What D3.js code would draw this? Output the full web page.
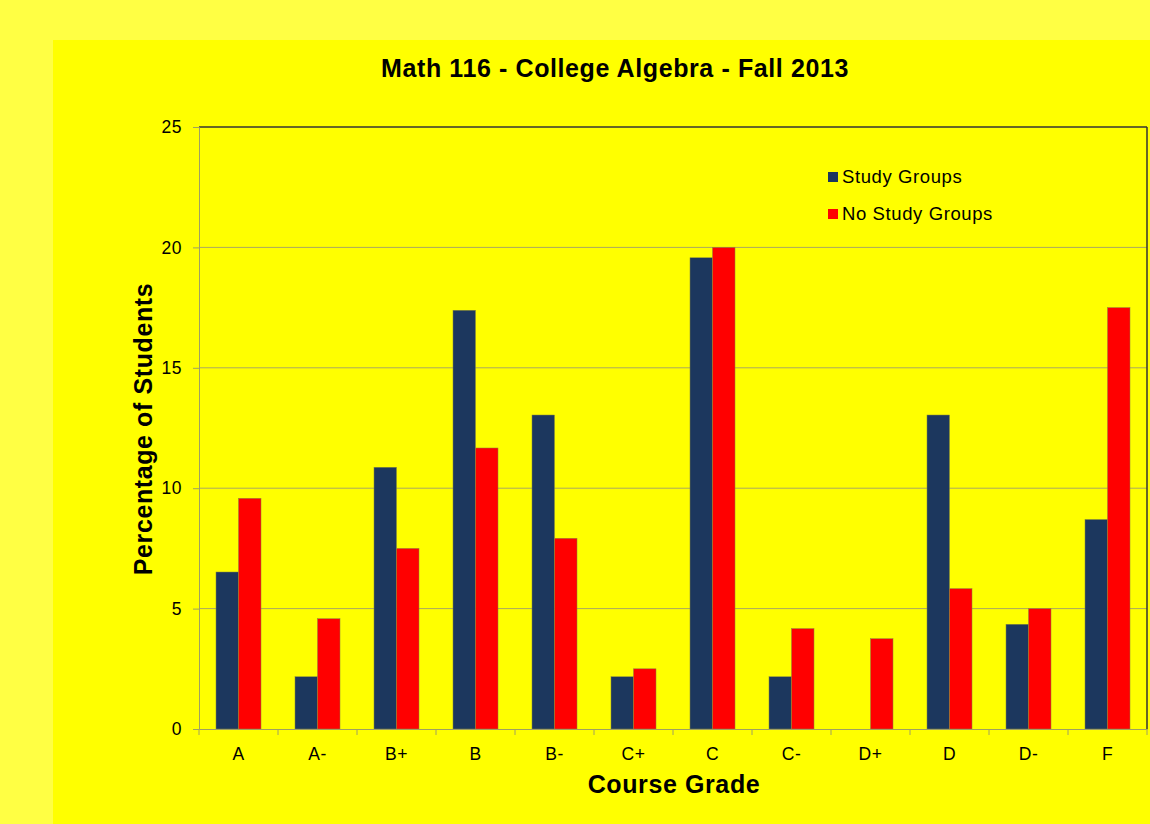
<!DOCTYPE html>
<html>
<head>
<meta charset="utf-8">
<script src="https://cdn.jsdelivr.net/npm/d3@7"></script>
<style>
  body { margin: 0; background: #ffff44; }
  text { font-family: "Liberation Sans", Arial, sans-serif; }
</style>
</head>
<body>
<div id="plotContainer"></div>
<script>
// data
const grades = ["A", "A-", "B+", "B", "B-", "C+", "C", "C-", "D+", "D", "D-", "F"];
const studyGroups = [6.52, 2.17, 10.87, 17.39, 13.04, 2.17, 19.57, 2.17, 0, 13.04, 4.35, 8.7];
const noStudyGroups = [9.58, 4.58, 7.5, 11.67, 7.92, 2.5, 20, 4.17, 3.75, 5.83, 5, 17.5];
const seriesNames = ["Study Groups", "No Study Groups"];
const seriesColors = ["#1c375e", "#ff0000"];
const yTicks = [0, 5, 10, 15, 20, 25];

const W = 1150, H = 824;
const margin = {top: 127, left: 199};
const width = 1147 - margin.left, height = 729 - margin.top;

const root = d3.select("#plotContainer").append("svg")
    .attr("width", W).attr("height", H);

root.append("rect").attr("width", W).attr("height", H).attr("fill", "#ffff44");
// inner chart panel
root.append("rect").attr("x", 53).attr("y", 40).attr("width", W - 53).attr("height", H - 40)
    .attr("fill", "#ffff00");

const svg = root.append("g").attr("transform", `translate(${margin.left},${margin.top})`);

const x = d3.scaleBand().domain(grades).range([0, width]).paddingInner(0).paddingOuter(0);
const x1 = d3.scaleBand().domain(seriesNames).range([0, x.bandwidth()]).paddingInner(0).paddingOuter(0.755);
const y = d3.scaleLinear().domain([0, 25]).range([height, 0]);

// gridlines
svg.append("g").selectAll("line").data(yTicks.slice(1, -1)).join("line")
    .attr("x1", 0).attr("x2", width)
    .attr("y1", d => y(d)).attr("y2", d => y(d))
    .attr("stroke", "#aaa860").attr("stroke-width", 1);

// bars
const rows = grades.map((g, i) => ({grade: g, vals: [studyGroups[i], noStudyGroups[i]]}));
svg.append("g").selectAll("g").data(rows).join("g")
    .attr("transform", d => `translate(${x(d.grade)},0)`)
  .selectAll("rect").data(d => d.vals.map((v, j) => ({name: seriesNames[j], v, c: seriesColors[j]})))
  .join("rect")
    .attr("x", d => x1(d.name))
    .attr("y", d => y(d.v))
    .attr("width", x1.bandwidth())
    .attr("height", d => height - y(d.v))
    .attr("fill", d => d.c)
    .attr("stroke", d => d.v > 0 ? "#8a8a40" : "none")
    .attr("stroke-width", 0.5);

// plot frame: top and right dark
svg.append("line").attr("x1", 0).attr("x2", width).attr("y1", 0).attr("y2", 0)
    .attr("stroke", "#333").attr("stroke-width", 1.5);
svg.append("line").attr("x1", width).attr("x2", width).attr("y1", 0).attr("y2", height)
    .attr("stroke", "#333").attr("stroke-width", 1.5);

// y axis
const yAxis = svg.append("g")
    .call(d3.axisLeft(y).tickValues(yTicks).tickSize(6).tickPadding(11));
yAxis.select(".domain").attr("stroke", "#a0a060");
yAxis.selectAll(".tick line").attr("stroke", "#a0a060");
yAxis.selectAll("text").attr("font-size", 17.5).attr("fill", "#000")
    .style("letter-spacing", "0.5px")
    .style("font-family", "Liberation Sans, Arial, sans-serif");

// x axis with ticks at category boundaries
const xAxis = svg.append("g").attr("transform", `translate(0,${height})`)
    .call(d3.axisBottom(x).tickSize(0).tickPadding(19));
xAxis.select(".domain").attr("stroke", "#a0a060");
xAxis.selectAll("text").attr("font-size", 17.5).attr("fill", "#000")
    .style("letter-spacing", "0.5px")
    .style("font-family", "Liberation Sans, Arial, sans-serif");
svg.append("g").selectAll("line").data(d3.range(grades.length + 1)).join("line")
    .attr("x1", i => i * x.step()).attr("x2", i => i * x.step())
    .attr("y1", height).attr("y2", height + 6)
    .attr("stroke", "#a0a060");

// titles
const titleStyle = sel => sel.attr("font-size", 25).attr("font-weight", "bold")
    .style("letter-spacing", "0.6px");
root.append("text").attr("x", 615).attr("y", 77).attr("text-anchor", "middle")
    .call(titleStyle).text("Math 116 - College Algebra - Fall 2013");
root.append("text").attr("x", 674).attr("y", 793).attr("text-anchor", "middle")
    .call(titleStyle).text("Course Grade");
root.append("text").attr("transform", "translate(152,429) rotate(-90)").attr("text-anchor", "middle")
    .call(titleStyle).text("Percentage of Students");

// legend
const legend = root.append("g").attr("transform", "translate(828,170)");
seriesNames.forEach((n, i) => {
  const g = legend.append("g").attr("transform", `translate(0,${i * 37})`);
  g.append("rect").attr("width", 10).attr("height", 10).attr("y", 2).attr("fill", seriesColors[i]);
  g.append("text").attr("x", 14).attr("y", 13).attr("font-size", 18.5)
      .style("letter-spacing", "0.6px").text(n);
});
</script>
</body>
</html>
